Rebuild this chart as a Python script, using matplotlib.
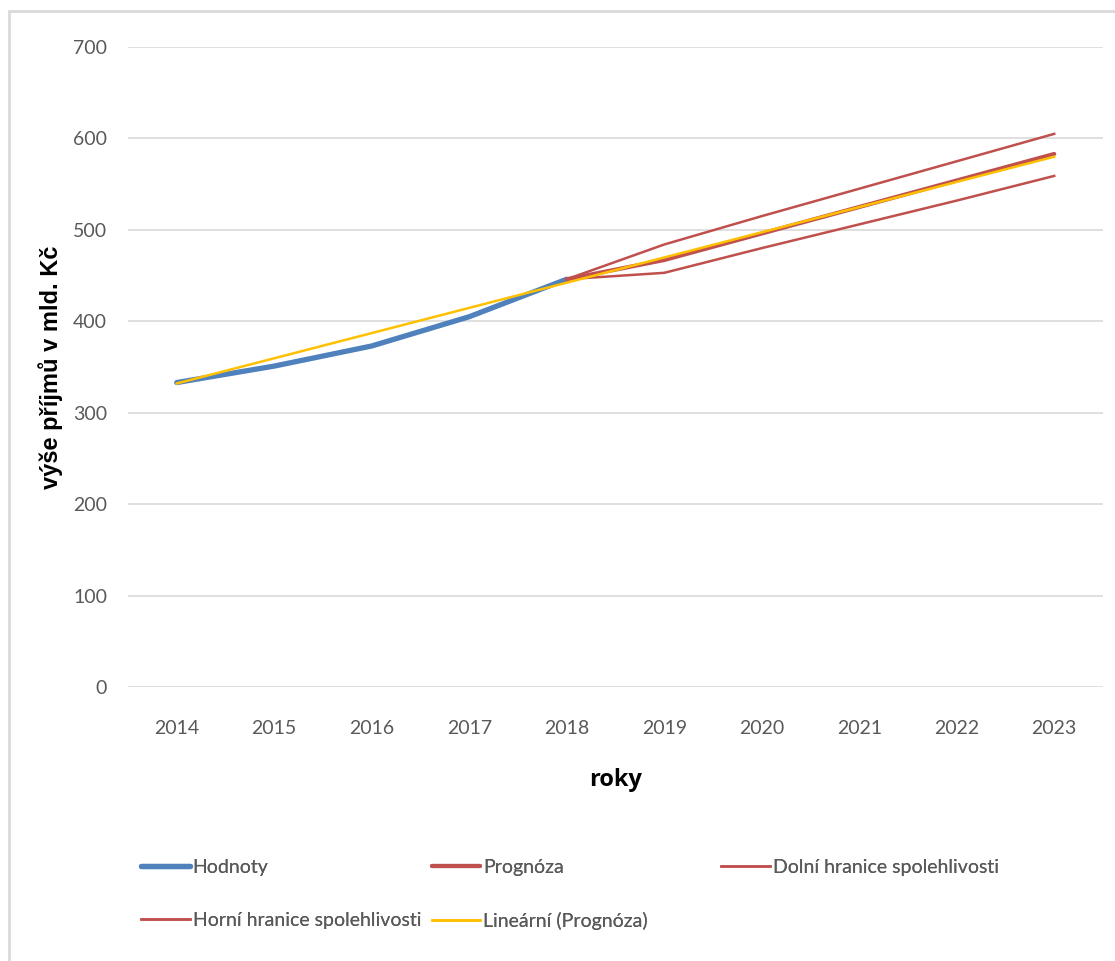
import numpy as np
import matplotlib
matplotlib.use("Agg")
import matplotlib.pyplot as plt
from matplotlib.patches import Rectangle

plt.rcParams['font.family'] = ['Lato', 'DejaVu Sans']

# data
years = [2014, 2015, 2016, 2017, 2018, 2019, 2020, 2021, 2022, 2023]
hist_years = [2014, 2015, 2016, 2017, 2018]
hodnoty = [333, 351, 373, 405, 446]
fc_years = [2018, 2019, 2020, 2021, 2022, 2023]
prognoza = [446, 467, 496, 525, 554, 583]
dolni = [446, 453, 480, 506, 532, 559]
horni = [446, 484, 515, 545, 575, 605]
trend_years = [2014, 2023]
trend = [332, 580]

blue = '#4F81BD'
red = '#C0504D'
yellow = '#FFC000'
gray = '#595959'

fig = plt.figure(figsize=(11.15, 9.61), dpi=100)
ax = fig.add_axes([0.1148, 0.2851, 0.8744, 0.666])

ax.plot(hist_years, hodnoty, color=blue, lw=3.8, solid_capstyle='round', label='Hodnoty', zorder=3)
ax.plot(fc_years, prognoza, color=red, lw=3.0, solid_capstyle='round', label='Prognóza', zorder=3)
ax.plot(fc_years, dolni, color=red, lw=1.8, label='Dolní hranice spolehlivosti', zorder=3)
ax.plot(fc_years, horni, color=red, lw=1.8, label='Horní hranice spolehlivosti', zorder=3)
ax.plot(trend_years, trend, color=yellow, lw=1.8, label='Lineární (Prognóza)', zorder=4)

ax.set_xlim(2013.5, 2023.5)
ax.set_ylim(0, 700)
ax.set_xticks(years)
ax.set_yticks(np.arange(0, 701, 100))
ax.grid(axis='y', color='#D9D9D9', lw=1.2)
ax.set_axisbelow(True)
for s in ax.spines.values():
    s.set_visible(False)
ax.tick_params(length=0, colors=gray, labelsize=14)
ax.tick_params(axis='x', pad=24)
ax.tick_params(axis='y', pad=15)

ax.set_xlabel('roky', fontsize=17, fontweight='bold', color='black',
              family=['Open Sans', 'DejaVu Sans'], labelpad=22)
ax.set_ylabel('výše příjmů v mld. Kč', fontsize=17, fontweight='bold', color='black',
              family=['Liberation Sans', 'DejaVu Sans'])
ax.yaxis.set_label_coords(-0.0667, 0.5)

# legend: Excel puts entries in fixed slots, so one legend per column
h, l = ax.get_legend_handles_labels()
cols = [([0, 3], 0.1196), ([1, 4], 0.3803), ([2], 0.6397)]
for idx, x0 in cols:
    lg = fig.legend([h[i] for i in idx], [l[i] for i in idx],
                    loc='upper left', bbox_to_anchor=(x0, 0.1147), frameon=False,
                    fontsize=14, handlelength=2.5, handletextpad=0.15,
                    labelspacing=1.86, labelcolor=gray, borderaxespad=0)
    fig.add_artist(lg)

fig.patches.append(Rectangle((0.008, -0.01), 1.1, 0.999, transform=fig.transFigure,
                             fill=False, edgecolor='#D9D9D9', lw=2))

fig.savefig('out.png', dpi=100)
